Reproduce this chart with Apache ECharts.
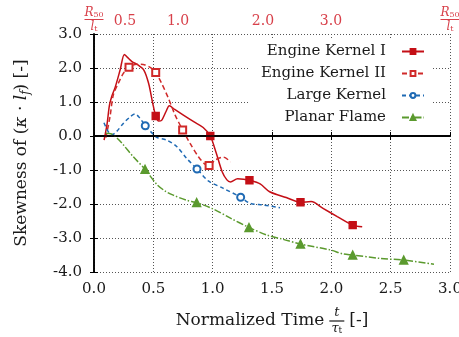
<!DOCTYPE html>
<html><head><meta charset="utf-8">
<script src="https://cdn.jsdelivr.net/npm/echarts@6/dist/echarts.min.js"></script>
<style>html,body{margin:0;padding:0;background:#fff}#c{width:459px;height:337px}</style>
</head><body><div id="c"></div>
<script>
// ---------- data ----------
const seriesNames = ['Engine Kernel I', 'Engine Kernel II', 'Large Kernel', 'Planar Flame'];

const kernelI = [[0.085,-0.12],[0.11,0.35],[0.13,0.9],[0.15,1.17],[0.18,1.45],[0.22,1.94],[0.256,2.40],[0.28,2.32],[0.32,2.19],[0.37,2.09],[0.42,1.94],[0.46,1.55],[0.495,0.96],[0.52,0.59],[0.545,0.44],[0.57,0.46],[0.607,0.72],[0.635,0.89],[0.68,0.78],[0.75,0.62],[0.84,0.42],[0.92,0.25],[0.98,0.0],[1.03,-0.5],[1.08,-1.05],[1.12,-1.29],[1.15,-1.35],[1.21,-1.26],[1.26,-1.27],[1.31,-1.3],[1.40,-1.41],[1.48,-1.64],[1.62,-1.81],[1.74,-1.95],[1.83,-1.93],[1.93,-2.13],[2.05,-2.37],[2.18,-2.62],[2.26,-2.67]];
const kernelIMarks = [0.52, 0.98, 1.31, 1.74, 2.18];

const kernelII = [[0.10,-0.05],[0.135,0.57],[0.163,1.21],[0.205,1.55],[0.247,1.84],[0.295,2.02],[0.36,2.11],[0.43,2.09],[0.486,1.99],[0.52,1.87],[0.57,1.55],[0.627,1.11],[0.683,0.62],[0.747,0.18],[0.81,-0.22],[0.88,-0.61],[0.935,-0.83],[0.97,-0.87],[1.02,-0.71],[1.09,-0.62],[1.15,-0.76]];
const kernelIIMarks = [0.295, 0.52, 0.747, 0.97];

const largeKernel = [[0.084,0.39],[0.12,0.13],[0.15,0.03],[0.19,0.13],[0.247,0.37],[0.30,0.55],[0.345,0.65],[0.388,0.52],[0.432,0.30],[0.486,0.10],[0.528,-0.04],[0.612,-0.12],[0.697,-0.31],[0.781,-0.66],[0.868,-0.97],[0.963,-1.32],[1.09,-1.54],[1.236,-1.80],[1.315,-1.98],[1.427,-2.03],[1.567,-2.11]];
const largeKernelMarks = [0.432, 0.868, 1.236];

const planarFlame = [[0.10,0.08],[0.149,0.06],[0.20,-0.08],[0.247,-0.26],[0.331,-0.61],[0.43,-0.98],[0.528,-1.42],[0.60,-1.62],[0.668,-1.74],[0.78,-1.89],[0.865,-1.96],[1.006,-2.15],[1.146,-2.41],[1.306,-2.69],[1.455,-2.91],[1.595,-3.04],[1.74,-3.18],[1.99,-3.35],[2.10,-3.47],[2.18,-3.5],[2.41,-3.6],[2.61,-3.65],[2.865,-3.77]];
const planarFlameMarks = [0.43, 0.865, 1.306, 1.74, 2.18, 2.61];

const xMin = 0, xMax = 3, xStep = 0.5;
const yMin = -4, yMax = 3, yStep = 1;
// top axis (R50 / l_t) labels, positioned in units of the bottom axis
const topTickValues = [0, 0.261, 0.708, 1.424, 1.997, 3];
const topTickLabels = ['frac', '0.5', '1.0', '2.0', '3.0', 'frac'];
const topTickMarks = [0.5, 1.0, 1.5, 2.0, 2.5];

// ---------- style ----------
const FONT = 'DejaVu Serif';
const INK = '#1a1a1a';
const RED = '#c40f16', RED2 = '#d02a2a', BLUE = '#1f6ab4', GREEN = '#5b9a2e', TOPRED = '#d8404a';

const ctx = document.createElement('canvas').getContext('2d');
function measure(t, size, style) { ctx.font = (style || 'normal') + ' normal ' + size + 'px ' + FONT; return ctx.measureText(t).width; }

function withMarks(pts, marks) {
  return pts.map(p => marks.indexOf(p[0]) >= 0 ? { value: p } : { value: p, symbol: 'none' });
}

// x axis name with fraction t / tau_t
const nameFs = 17;
const wA = measure('Normalized Time', nameFs), wB = measure('[-]', nameFs);
const gap = 5, barW = 15;
const wTau = measure('τ', 13, 'italic'), wSub = measure('t', 9);
const denOff = (barW - wTau - wSub) / 2;
const xName = '{sp1| }{num|t}{sp2| }\n{a|Normalized Time}{g| }{bar| }{g| }{a|[-]}\n{sp3| }{den|τ}{dsub|t}{sp4| }';
const C = { align: 'center', verticalAlign: 'middle', fontFamily: FONT, color: INK };
const xNameRich = {
  sp1: Object.assign({}, C, { width: wA + gap, fontSize: 1, lineHeight: 1 }),
  sp2: Object.assign({}, C, { width: wB + gap, fontSize: 1, lineHeight: 1 }),
  num: Object.assign({}, C, { width: barW, fontSize: 13, fontStyle: 'italic', lineHeight: 10 }),
  a: Object.assign({}, C, { fontSize: nameFs, lineHeight: 6 }),
  g: Object.assign({}, C, { width: gap, fontSize: 1, lineHeight: 1 }),
  bar: Object.assign({}, C, { width: barW, height: 1.2, fontSize: 1, lineHeight: 1.2, backgroundColor: INK }),
  sp3: Object.assign({}, C, { width: wA + gap + denOff, fontSize: 1, lineHeight: 1 }),
  sp4: Object.assign({}, C, { width: wB + gap + denOff, fontSize: 1, lineHeight: 1 }),
  den: Object.assign({}, C, { fontSize: 13, fontStyle: 'italic', lineHeight: 10 }),
  dsub: Object.assign({}, C, { fontSize: 9, lineHeight: 6, padding: [4, 0, 0, 0] })
};

const yName = '{a|Skewness of (}{i|κ}{a| · }{i|l}{s|f}{a|) [-]}';
const yNameRich = {
  a: Object.assign({}, C, { fontSize: nameFs, lineHeight: 20 }),
  i: Object.assign({}, C, { fontSize: nameFs, fontStyle: 'italic', lineHeight: 20 }),
  s: Object.assign({}, C, { fontSize: 12, fontStyle: 'italic', lineHeight: 12, padding: [7, 0, 0, 0] })
};

const TC = { align: 'center', verticalAlign: 'middle', fontFamily: FONT, color: TOPRED };
const topRich = {
  n: Object.assign({}, TC, { fontSize: 14, lineHeight: 14, padding: [0, 0, 7, 0] }),
  fr: Object.assign({}, TC, { fontSize: 12, fontStyle: 'italic', lineHeight: 11 }),
  fs: Object.assign({}, TC, { fontSize: 8, lineHeight: 7, padding: [4, 0, 0, 0] }),
  fb: Object.assign({}, TC, { width: 19, height: 1, fontSize: 1, lineHeight: 3, backgroundColor: TOPRED }),
  fl: Object.assign({}, TC, { fontSize: 12, fontStyle: 'italic', lineHeight: 11 })
};
function topFormatter(v) {
  let k = 0;
  for (let i = 0; i < topTickValues.length; i++) if (Math.abs(topTickValues[i] - v) < 1e-6) k = i;
  const t = topTickLabels[k];
  if (t === 'frac') return '{fr|R}{fs|50}\n{fb| }\n{fl|l}{fs|t}';
  return '{n|' + t + '}';
}

const dotted = { show: true, lineStyle: { color: '#555', type: [1, 2], width: 1 } };
const axisLineS = { show: true, lineStyle: { color: '#000', width: 1.6 } };
const tickS = { show: true, inside: true, length: 4, lineStyle: { color: '#000', width: 1 } };
const labelS = { fontFamily: FONT, fontSize: 15, color: INK };

function lineSeries(name, pts, marks, color, type, symbol, size) {
  return {
    name: name, type: 'line', data: withMarks(pts, marks), smooth: 0.3,
    symbol: symbol, symbolSize: size, showSymbol: true,
    lineStyle: { color: color, width: 1.5, type: type },
    itemStyle: { color: color, borderColor: color, borderWidth: 1.4 },
    emphasis: { disabled: true }, z: 3
  };
}

const series = [
  lineSeries(seriesNames[0], kernelI, kernelIMarks, RED, 'solid', 'rect', 7),
  lineSeries(seriesNames[1], kernelII, kernelIIMarks, RED2, [5, 3], 'emptyRect', 7),
  lineSeries(seriesNames[2], largeKernel, largeKernelMarks, BLUE, [4, 3], 'emptyCircle', 7),
  lineSeries(seriesNames[3], planarFlame, planarFlameMarks, GREEN, [7, 2, 1.5, 2], 'triangle', 8)
];
series[3].markLine = {
  silent: true, symbol: 'none', label: { show: false }, animation: false,
  lineStyle: { color: '#000', type: 'solid', width: 1.5 },
  data: [{ yAxis: 0 }]
};

const chart = echarts.init(document.getElementById('c'), null, { renderer: 'canvas' });
chart.setOption({
  animation: false,
  backgroundColor: '#fff',
  grid: { left: 94, right: 9, top: 34, bottom: 65, outerBoundsMode: 'none', containLabel: false },
  legend: {
    orient: 'vertical', right: 28, top: 40, align: 'right',
    itemWidth: 22, itemHeight: 6, itemGap: 7,
    backgroundColor: '#fff', padding: [4, 6, 3, 6],
    data: seriesNames,
    formatter: n => '{t|' + n + '}{g| }',
    textStyle: {
      fontFamily: FONT, fontSize: 15, color: INK,
      rich: { t: { width: 132, align: 'right', fontFamily: FONT, fontSize: 15, color: INK, lineHeight: 17 }, g: { width: 11, align: 'right' } }
    }
  },
  xAxis: [
    {
      type: 'value', position: 'bottom', min: xMin, max: xMax, interval: xStep,
      axisLine: axisLineS, axisTick: tickS, splitLine: dotted,
      axisLabel: Object.assign({}, labelS, { margin: 10, formatter: v => v.toFixed(1) }),
      name: xName, nameLocation: 'middle', nameGap: 36, nameMoveOverlap: false,
      nameTextStyle: { rich: xNameRich, fontFamily: FONT, color: INK }
    },
    {
      type: 'value', position: 'top', min: xMin, max: xMax,
      axisLine: axisLineS,
      axisTick: Object.assign({}, tickS, { customValues: topTickMarks }),
      splitLine: { show: false },
      axisLabel: { customValues: topTickValues, margin: 2, formatter: topFormatter, rich: topRich, color: TOPRED, fontFamily: FONT }
    }
  ],
  yAxis: [
    {
      type: 'value', position: 'left', min: yMin, max: yMax, interval: yStep,
      axisLine: axisLineS, axisTick: tickS, splitLine: dotted,
      axisLabel: Object.assign({}, labelS, { margin: 12, formatter: v => v.toFixed(1) }),
      name: yName, nameLocation: 'middle', nameGap: 62, nameMoveOverlap: false,
      nameTextStyle: { rich: yNameRich, fontFamily: FONT, color: INK }
    },
    {
      type: 'value', position: 'right', min: yMin, max: yMax, interval: yStep,
      axisLine: axisLineS, axisTick: tickS, splitLine: { show: false }, axisLabel: { show: false }
    }
  ],
  series: series
});
</script></body></html>
